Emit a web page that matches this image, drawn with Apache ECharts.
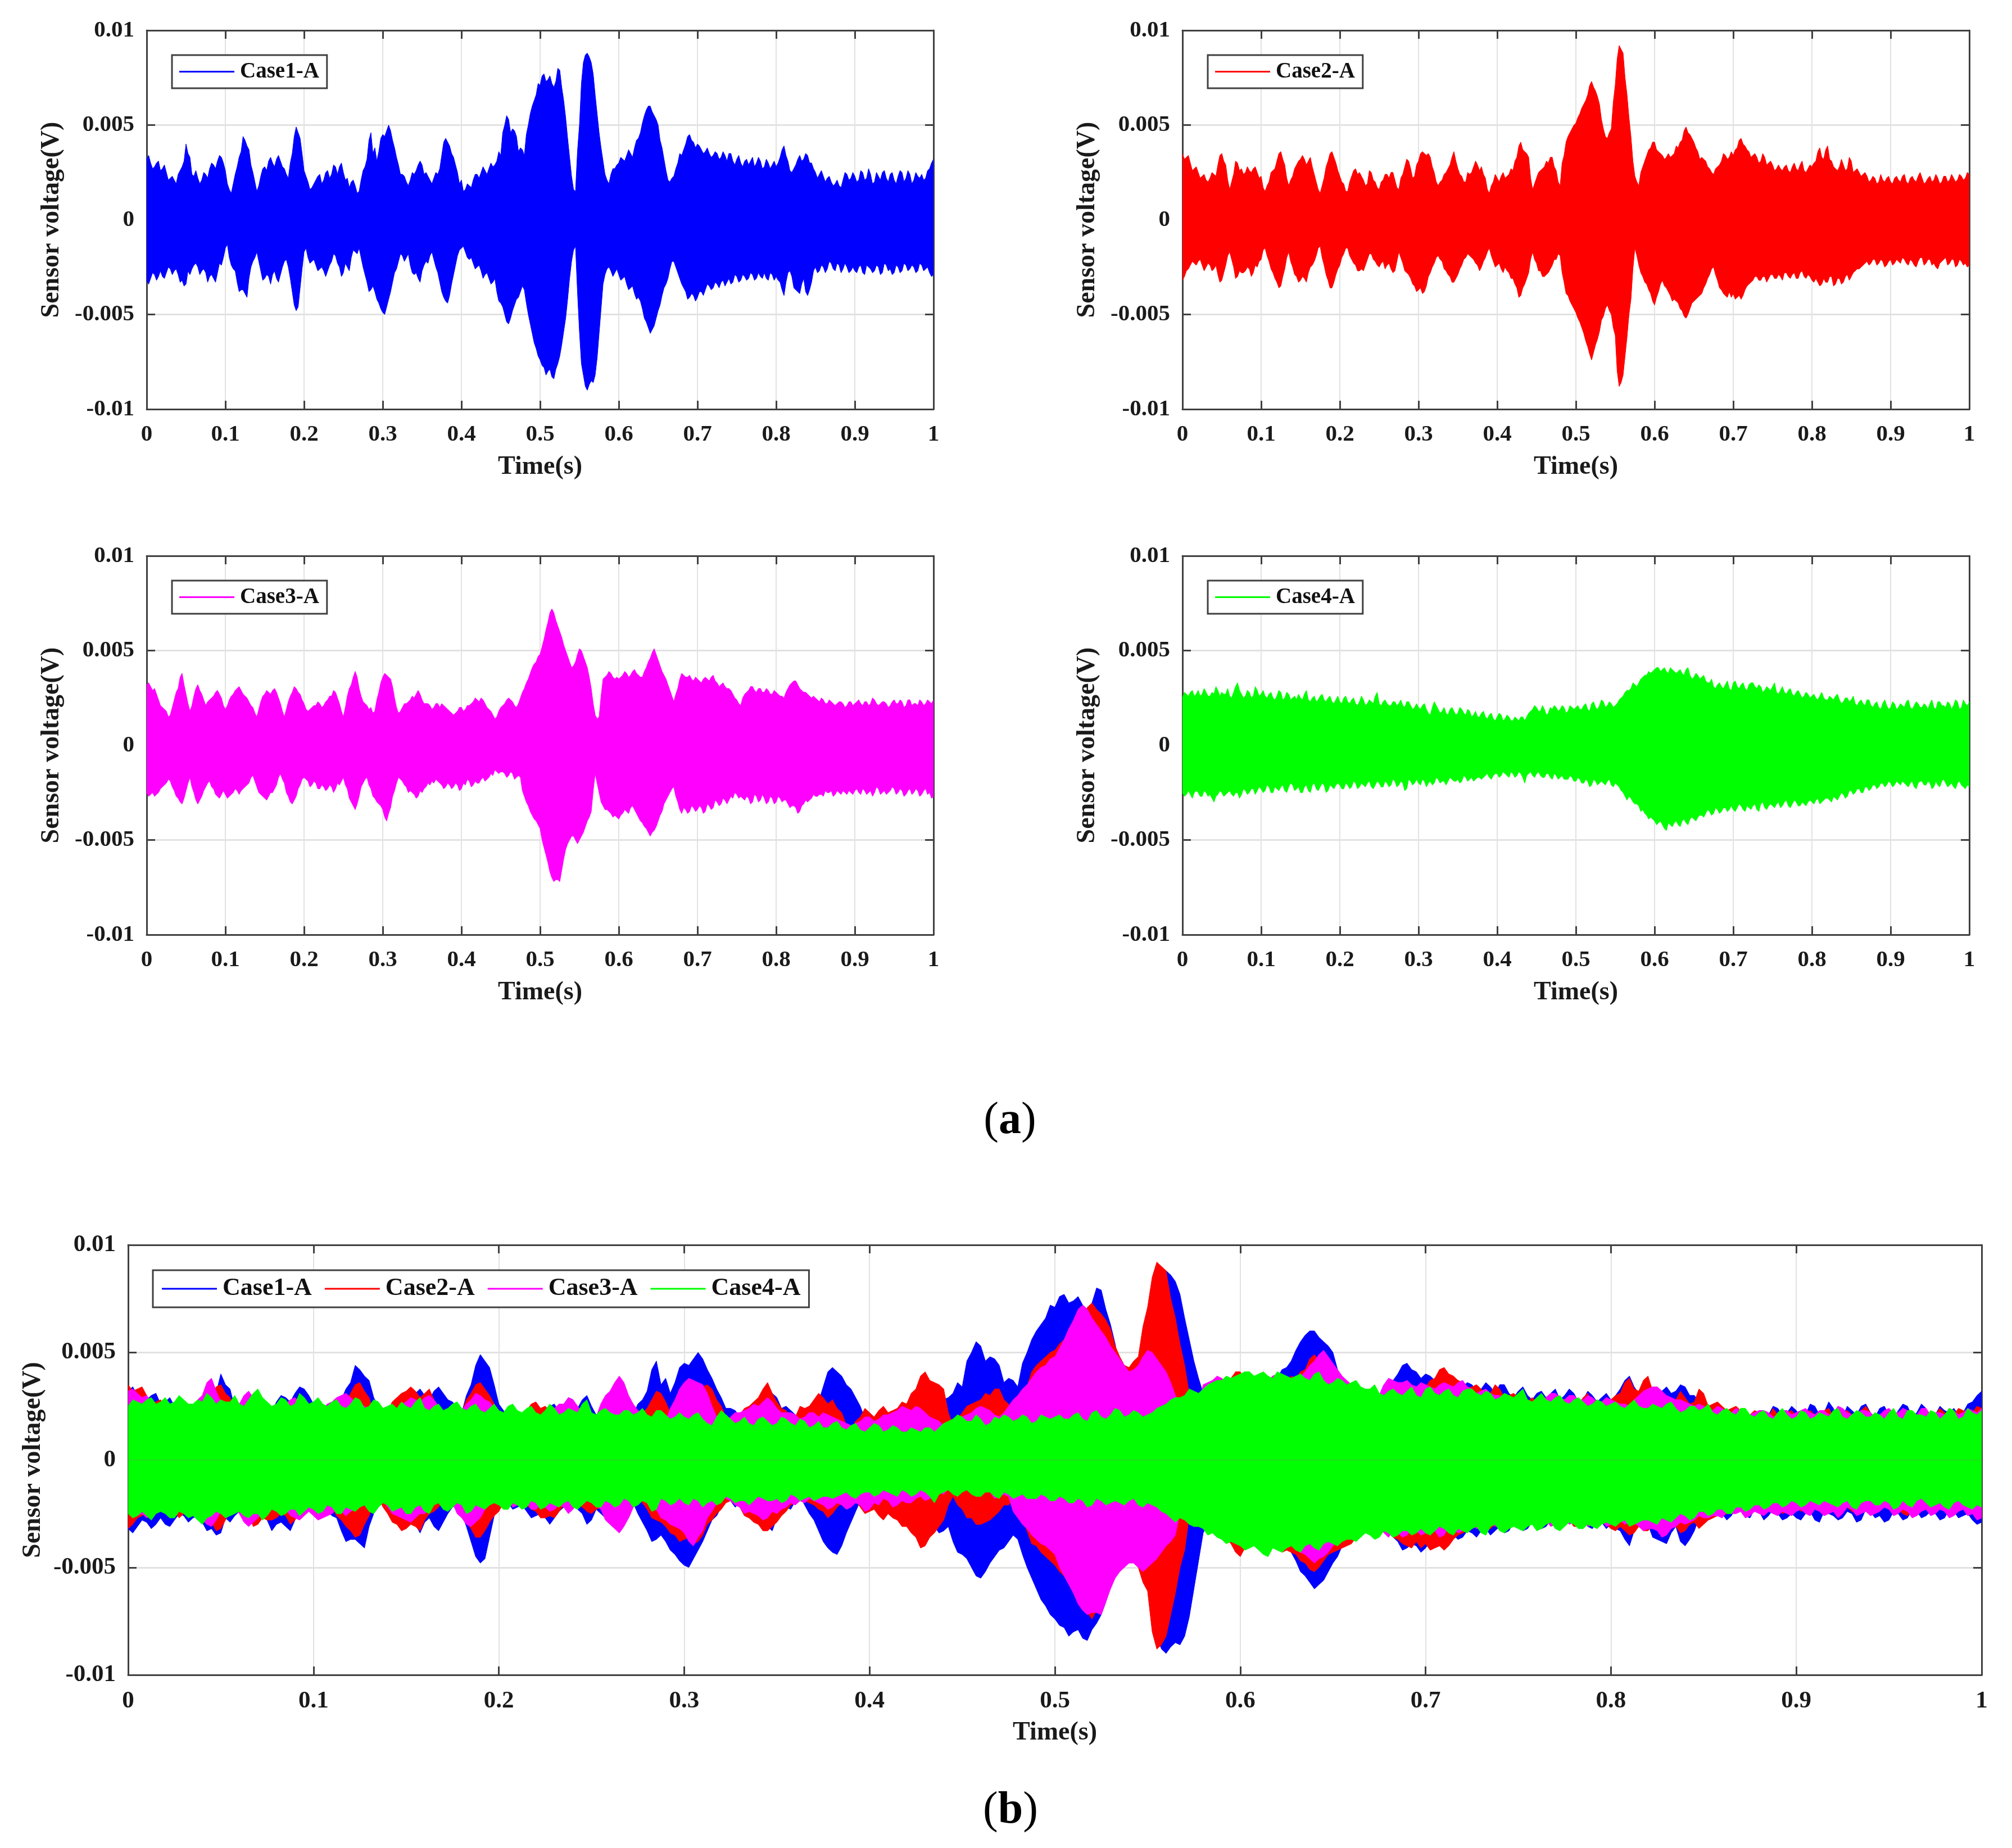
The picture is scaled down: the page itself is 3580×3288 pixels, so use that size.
<!DOCTYPE html>
<html>
<head>
<meta charset="utf-8">
<title>Sensor voltage</title>
<style>
html, body { margin: 0; padding: 0; background: #fff; }
#main { width: 3580px; height: 3288px; }
</style>
<script src="https://cdn.jsdelivr.net/npm/echarts@6/dist/echarts.min.js"></script>
</head>
<body>
<div id="main"></div>
<script>
// envelope of each record, in units of 0.1 mV, one value every 5 ms
var case1Top = [
	32,30,28,31,27,25,22,21,24,28,40,33,23,22,21,24,27,29,31,33,
	26,16,19,28,36,42,37,25,15,23,28,31,30,32,31,27,22,35,49,43,
	26,20,17,21,24,21,26,24,28,28,25,22,20,18,15,26,32,46,38,36,
	45,47,47,38,29,24,20,21,24,29,29,25,21,22,24,34,43,39,33,25,
	21,16,18,21,24,25,26,27,28,31,34,50,53,48,44,38,34,50,60,66,
	71,77,74,72,73,79,63,43,23,15,50,83,88,83,66,46,31,21,24,27,
	30,32,34,35,38,43,51,58,60,55,50,38,26,20,23,30,34,40,45,41,
	40,37,36,35,34,35,33,34,35,31,32,30,31,29,33,30,31,28,30,29,
	28,33,39,31,25,29,34,32,34,30,25,24,23,22,20,19,18,21,24,22,
	23,21,25,22,24,20,23,25,22,24,21,23,25,22,24,21,23,24,22,27,32
];
var case1Bottom = [
	-32,-31,-29,-30,-30,-28,-26,-27,-29,-32,-34,-29,-24,-25,-27,-28,-30,-31,-28,-24,
	-15,-20,-26,-33,-37,-39,-31,-22,-17,-27,-31,-30,-29,-31,-29,-22,-25,-38,-48,-36,
	-17,-20,-22,-24,-26,-27,-27,-22,-19,-25,-28,-25,-20,-17,-15,-25,-33,-37,-38,-44,
	-49,-46,-38,-28,-22,-19,-20,-24,-29,-31,-27,-22,-19,-21,-28,-38,-43,-40,-29,-19,
	-15,-17,-21,-23,-25,-27,-29,-31,-33,-38,-44,-50,-55,-48,-42,-38,-37,-50,-60,-68,
	-74,-78,-80,-83,-79,-72,-59,-42,-22,-14,-59,-82,-90,-85,-82,-60,-34,-26,-27,-28,
	-29,-31,-34,-36,-39,-41,-47,-54,-60,-56,-48,-40,-34,-26,-22,-28,-34,-38,-41,-40,
	-41,-38,-37,-35,-36,-34,-33,-35,-31,-33,-30,-32,-30,-31,-29,-31,-30,-28,-32,-29,
	-30,-33,-40,-28,-30,-37,-39,-31,-40,-33,-25,-27,-25,-26,-23,-27,-24,-26,-25,-27,
	-27,-25,-28,-24,-26,-27,-25,-28,-24,-26,-28,-25,-27,-24,-26,-25,-27,-24,-26,-28,-29
];
var case2Top = [
	35,33,30,27,25,23,21,22,24,29,35,29,16,24,30,27,25,26,27,25,
	23,15,20,26,31,36,29,18,23,29,32,32,31,28,20,14,22,31,36,30,
	23,19,15,23,27,25,21,19,25,20,16,21,24,25,21,16,24,32,27,23,
	31,36,34,33,25,18,21,25,29,36,27,23,20,24,28,29,28,22,14,20,
	22,23,22,24,26,33,41,36,33,16,22,26,28,30,33,26,18,34,44,48,
	51,56,61,66,73,68,61,48,43,48,71,92,88,66,44,23,18,28,34,38,
	41,36,34,33,33,35,38,42,49,45,41,36,33,31,27,24,28,31,34,33,
	34,38,43,39,36,34,33,31,33,30,29,27,27,28,26,28,27,29,26,27,
	28,31,38,32,39,31,27,28,29,27,31,26,25,24,23,21,22,20,21,22,
	20,22,21,23,20,22,21,23,22,20,23,21,22,20,23,21,22,21,23,22,24
];
var case2Bottom = [
	-32,-27,-24,-23,-22,-24,-25,-24,-26,-29,-32,-24,-17,-25,-30,-28,-27,-26,-28,-25,
	-21,-15,-22,-28,-33,-35,-26,-17,-25,-30,-32,-31,-28,-24,-19,-14,-24,-32,-36,-29,
	-24,-18,-15,-21,-24,-27,-27,-21,-18,-22,-25,-22,-24,-26,-27,-17,-23,-28,-31,-35,
	-37,-39,-35,-28,-23,-19,-22,-27,-30,-33,-29,-24,-20,-19,-21,-24,-25,-20,-15,-22,
	-24,-26,-25,-28,-31,-36,-40,-34,-28,-17,-23,-27,-30,-28,-24,-21,-19,-33,-40,-45,
	-49,-54,-60,-67,-74,-66,-59,-51,-45,-50,-61,-88,-82,-62,-42,-15,-24,-30,-34,-39,
	-45,-38,-32,-36,-40,-42,-44,-48,-52,-47,-43,-41,-39,-34,-29,-25,-32,-37,-40,-38,
	-39,-41,-42,-37,-34,-32,-30,-32,-30,-31,-29,-31,-30,-28,-30,-29,-31,-28,-30,-29,
	-32,-31,-35,-31,-33,-30,-34,-31,-33,-29,-30,-27,-26,-24,-22,-23,-21,-23,-22,-24,
	-21,-23,-22,-20,-23,-21,-24,-22,-20,-23,-21,-23,-26,-22,-20,-23,-21,-24,-22,-23,-24
];
var case3Top = [
	32,31,30,24,20,18,16,24,30,38,27,18,26,32,27,21,24,26,29,25,
	19,24,27,30,29,26,23,20,15,23,27,28,29,28,22,15,23,28,30,27,
	22,18,20,21,22,21,24,26,28,22,15,26,32,39,30,23,21,20,18,28,
	36,37,35,25,17,20,22,24,25,29,24,22,21,20,22,22,20,18,16,18,
	20,19,21,23,24,25,22,19,16,15,20,22,25,23,20,25,30,35,41,44,
	48,56,65,72,66,60,53,47,41,44,51,47,41,30,16,15,35,37,38,35,
	35,37,38,37,40,37,36,41,46,51,45,39,35,29,23,30,38,36,37,34,
	35,33,36,34,37,33,32,31,30,27,24,21,27,29,31,28,30,28,29,27,
	28,26,25,30,33,34,30,28,27,25,25,23,24,22,23,21,23,22,21,23,
	22,24,21,23,22,24,21,23,22,21,24,22,23,21,24,22,21,23,22,23,24
];
var case3Bottom = [
	-25,-26,-27,-25,-22,-20,-19,-24,-28,-31,-24,-17,-25,-31,-27,-22,-19,-23,-27,-26,
	-26,-27,-25,-24,-24,-22,-20,-16,-22,-26,-28,-27,-25,-21,-15,-20,-27,-31,-27,-21,
	-17,-19,-21,-20,-23,-22,-23,-22,-23,-21,-17,-23,-30,-34,-27,-20,-17,-23,-28,-31,
	-34,-40,-33,-24,-17,-19,-22,-24,-26,-27,-25,-22,-21,-20,-19,-21,-22,-21,-22,-21,
	-23,-21,-19,-21,-20,-18,-19,-17,-16,-14,-14,-15,-16,-15,-17,-17,-27,-32,-37,-40,
	-44,-54,-62,-70,-71,-72,-60,-52,-48,-50,-50,-46,-40,-35,-15,-25,-32,-34,-36,-37,
	-39,-36,-35,-33,-34,-38,-41,-44,-48,-45,-40,-35,-29,-25,-22,-30,-36,-34,-35,-33,
	-34,-33,-35,-32,-33,-30,-31,-29,-29,-28,-26,-27,-29,-28,-30,-27,-29,-28,-30,-28,
	-30,-28,-29,-31,-32,-33,-35,-31,-30,-28,-27,-26,-27,-25,-24,-26,-25,-24,-26,-25,
	-24,-25,-23,-26,-24,-25,-23,-25,-26,-24,-23,-25,-24,-26,-23,-25,-24,-26,-23,-25,-27
];
var case4Top = [
	25,27,28,26,29,27,28,26,27,29,28,27,26,28,33,27,26,28,26,29,
	27,26,27,25,26,28,25,27,25,24,25,27,24,25,23,26,24,25,23,24,
	23,25,23,24,22,23,24,22,23,26,22,23,22,21,23,22,21,23,21,20,
	20,21,19,16,23,19,18,17,19,18,17,19,16,18,16,15,17,15,16,14,
	15,16,14,15,13,14,15,13,17,19,20,18,19,17,19,20,19,20,18,20,
	20,19,21,19,22,20,21,23,21,22,21,24,26,29,30,32,33,36,37,38,
	40,41,40,39,41,39,39,38,40,37,36,37,36,34,33,31,32,31,32,30,
	33,31,32,30,32,33,30,31,29,30,31,28,29,28,29,27,28,27,26,27,
	26,25,26,25,24,25,26,24,23,25,24,22,23,22,24,21,22,20,22,21,
	20,22,20,21,23,20,21,22,20,21,22,20,23,21,20,22,21,23,20,22,23
];
var case4Bottom = [
	-25,-26,-26,-25,-25,-27,-25,-26,-30,-26,-25,-26,-24,-27,-25,-26,-24,-25,-23,-24,
	-23,-24,-22,-25,-23,-22,-24,-22,-21,-23,-25,-22,-24,-21,-23,-22,-21,-24,-22,-21,
	-21,-23,-21,-22,-20,-22,-21,-20,-22,-21,-20,-22,-20,-21,-19,-21,-20,-23,-19,-20,
	-20,-18,-22,-19,-20,-18,-19,-21,-17,-19,-18,-19,-17,-18,-19,-17,-18,-16,-17,-16,
	-15,-16,-15,-17,-15,-16,-15,-20,-15,-16,-15,-16,-17,-15,-18,-16,-17,-18,-18,-17,
	-19,-18,-20,-19,-21,-19,-20,-20,-19,-21,-20,-22,-25,-29,-28,-31,-32,-34,-37,-38,
	-40,-41,-42,-45,-42,-41,-42,-40,-41,-39,-39,-38,-37,-36,-35,-36,-34,-35,-33,-34,
	-34,-33,-32,-35,-33,-32,-34,-31,-33,-32,-32,-31,-33,-30,-32,-31,-30,-32,-31,-30,
	-30,-29,-31,-29,-28,-30,-28,-27,-26,-27,-24,-25,-23,-25,-22,-23,-21,-22,-20,-21,
	-20,-21,-20,-19,-21,-20,-22,-20,-19,-21,-20,-22,-21,-19,-20,-21,-22,-20,-21,-23,-22
];

// readings halfway between the ones above, they carry the fine spikes of the edge
var case1TopMid = [
	34,27,30,26,29,21,23,19,26,31,35,24,26,19,25,22,30,27,34,30,
	19,14,24,33,44,39,29,20,18,27,26,33,28,34,28,24,30,44,46,35,
	23,16,19,23,19,25,22,29,24,30,21,17,21,14,21,28,42,35,31,43,
	44,50,42,33,24,23,18,25,26,31,24,23,19,25,27,41,41,35,29,19,
	15,19,17,24,22,28,24,30,29,36,46,55,46,47,36,37,45,56,63,72,
	76,73,76,70,80,70,54,33,16,36,72,87,86,77,56,38,24,19,27,29,
	33,31,37,33,42,46,55,60,57,53,42,32,21,22,27,35,37,44,42,38,
	39,35,38,33,36,32,36,31,35,29,34,28,32,31,28,33,27,32,27,31,
	30,37,34,26,27,32,31,35,30,27,22,26,20,23,18,21,17,25,21,25,
	20,26,21,27,19,25,21,26,20,25,19,26,20,26,19,25,22,21,26,30
];
var case1BottomMid = [
	-34,-28,-32,-27,-31,-25,-29,-26,-33,-35,-27,-26,-23,-29,-26,-33,-29,-33,-23,-20,
	-13,-24,-27,-38,-37,-41,-25,-20,-22,-32,-29,-34,-27,-33,-25,-21,-31,-45,-46,-26,
	-15,-23,-21,-27,-25,-30,-24,-18,-23,-30,-23,-27,-16,-18,-20,-29,-38,-35,-42,-47,
	-50,-42,-33,-26,-18,-22,-18,-28,-28,-33,-24,-23,-17,-25,-33,-41,-44,-34,-24,-16,
	-14,-20,-20,-26,-24,-31,-28,-34,-31,-43,-46,-54,-52,-45,-41,-35,-44,-55,-65,-72,
	-77,-82,-79,-84,-76,-66,-52,-31,-16,-38,-76,-88,-87,-86,-73,-47,-29,-25,-30,-26,
	-32,-30,-37,-35,-42,-43,-52,-57,-58,-52,-45,-36,-31,-22,-25,-31,-36,-42,-39,-43,
	-38,-40,-34,-37,-33,-36,-32,-33,-34,-29,-33,-29,-32,-28,-32,-28,-31,-31,-28,-32,
	-32,-37,-33,-27,-36,-38,-34,-38,-37,-27,-28,-24,-28,-22,-26,-23,-28,-23,-28,-25,
	-28,-24,-29,-25,-28,-24,-29,-23,-27,-29,-24,-28,-23,-27,-24,-28,-23,-27,-25,-30
];
var case2TopMid = [
	32,34,26,28,22,24,20,25,23,34,31,21,20,31,26,24,28,25,28,22,
	17,18,25,27,35,32,22,21,27,31,34,29,33,24,16,18,28,35,33,26,
	20,15,20,26,24,23,18,26,21,17,20,24,22,25,17,22,28,31,22,29,
	35,35,35,28,20,20,24,27,33,31,24,20,25,25,31,26,24,16,18,24,
	20,25,23,27,31,39,37,35,22,19,25,27,31,33,28,20,30,41,46,50,
	54,59,63,71,70,65,53,44,46,62,85,90,75,54,31,20,25,31,37,41,
	37,35,32,35,34,39,41,47,46,43,38,32,32,28,25,27,29,35,32,36,
	37,42,40,37,33,35,30,35,29,31,26,29,26,29,25,30,26,31,25,29,
	30,36,33,37,32,28,26,32,26,33,25,27,23,25,20,23,19,24,20,23,
	19,23,20,24,19,23,20,25,19,22,20,24,19,23,20,24,20,24,21,25
];
var case2BottomMid = [
	-30,-26,-22,-24,-21,-27,-23,-27,-24,-33,-28,-19,-21,-31,-27,-28,-25,-30,-24,-22,
	-16,-19,-26,-31,-36,-30,-20,-22,-29,-33,-30,-33,-25,-22,-15,-20,-29,-36,-33,-26,
	-20,-15,-19,-23,-27,-26,-24,-18,-21,-24,-23,-26,-23,-28,-22,-20,-27,-29,-34,-38,
	-36,-38,-30,-25,-20,-21,-26,-29,-33,-31,-26,-21,-18,-20,-23,-27,-22,-17,-19,-25,
	-23,-28,-27,-31,-34,-41,-36,-31,-21,-21,-27,-30,-29,-26,-21,-18,-28,-39,-43,-47,
	-52,-57,-64,-71,-70,-63,-53,-47,-48,-57,-80,-86,-72,-50,-26,-19,-28,-33,-37,-43,
	-41,-34,-35,-38,-43,-43,-47,-51,-50,-44,-42,-40,-36,-31,-26,-29,-36,-39,-41,-41,
	-42,-40,-40,-35,-33,-30,-32,-30,-33,-29,-31,-29,-32,-28,-31,-28,-31,-27,-31,-30,
	-33,-33,-34,-33,-30,-35,-31,-34,-30,-32,-28,-26,-25,-23,-24,-21,-24,-21,-25,-22,
	-24,-21,-23,-21,-24,-22,-25,-20,-24,-21,-24,-25,-23,-21,-24,-21,-25,-21,-24,-25
];
var case3TopMid = [
	33,29,27,21,19,15,20,28,36,32,22,21,30,29,24,23,25,28,27,21,
	21,26,29,31,27,25,21,17,19,26,29,27,30,25,18,19,26,31,28,24,
	19,19,21,23,20,23,26,29,25,18,20,30,36,36,26,22,19,17,24,33,
	38,36,31,20,18,22,23,26,27,27,22,22,19,22,20,21,19,17,17,20,
	18,21,22,25,23,24,20,18,14,18,21,24,24,21,22,28,33,38,43,47,
	52,61,70,70,63,57,50,44,42,48,50,44,36,22,14,26,36,39,36,36,
	36,39,36,39,38,36,39,44,49,48,42,37,32,26,27,35,37,36,35,36,
	34,35,35,36,34,31,33,30,29,25,22,25,28,31,29,30,28,30,27,29,
	27,26,28,32,34,32,29,28,26,26,24,25,22,24,22,22,23,20,23,21,
	23,22,23,21,25,22,22,23,20,23,22,24,20,24,21,22,24,21,24,22
];
var case3BottomMid = [
	-27,-25,-26,-23,-21,-18,-22,-27,-30,-28,-20,-22,-29,-29,-24,-20,-22,-26,-28,-24,
	-28,-26,-23,-26,-23,-21,-17,-19,-25,-27,-29,-25,-23,-17,-18,-25,-30,-29,-23,-18,
	-18,-22,-19,-23,-21,-24,-21,-25,-20,-19,-21,-28,-32,-31,-22,-18,-21,-27,-30,-32,
	-38,-36,-27,-20,-18,-21,-25,-25,-28,-24,-23,-20,-19,-18,-20,-23,-20,-23,-20,-24,
	-20,-18,-22,-19,-20,-17,-18,-15,-13,-15,-14,-17,-14,-18,-16,-24,-30,-35,-39,-42,
	-50,-58,-67,-72,-71,-66,-55,-50,-48,-52,-48,-43,-38,-24,-20,-30,-34,-35,-38,-38,
	-37,-34,-36,-32,-36,-40,-43,-46,-46,-43,-37,-31,-27,-23,-27,-34,-33,-36,-32,-35,
	-32,-36,-31,-34,-29,-32,-28,-31,-27,-25,-28,-28,-27,-31,-26,-30,-26,-31,-27,-31,
	-27,-30,-29,-33,-32,-36,-32,-29,-29,-26,-27,-26,-24,-25,-27,-24,-26,-25,-24,-26,
	-23,-26,-24,-25,-27,-22,-26,-24,-25,-22,-26,-23,-27,-24,-26,-23,-27,-24,-26,-28
];
var case4TopMid = [
	28,26,29,27,26,30,26,28,31,26,27,30,25,31,29,25,29,25,31,26,
	29,25,28,24,29,24,28,24,26,27,24,29,23,26,24,27,23,26,22,26,
	22,26,22,25,21,26,21,24,22,28,21,24,21,23,21,24,20,23,19,22,
	19,22,17,20,21,17,20,16,20,16,20,17,19,15,18,15,18,14,17,13,
	17,13,16,13,15,13,15,15,18,21,18,21,16,20,21,18,21,17,21,19,
	21,19,22,18,23,19,24,20,23,20,22,25,28,29,33,31,35,37,39,39,
	41,39,41,38,40,38,40,37,41,35,38,35,37,33,35,30,33,30,34,29,
	34,30,33,29,33,31,32,28,31,29,33,27,31,27,30,26,29,25,28,25,
	27,24,28,24,26,24,27,22,25,23,26,21,24,21,24,20,23,19,24,19,
	23,19,22,20,24,19,23,20,22,19,24,19,23,21,23,19,24,19,24,21
];
var case4BottomMid = [
	-27,-24,-28,-24,-27,-24,-27,-28,-27,-24,-27,-25,-26,-25,-28,-23,-26,-23,-26,-22,
	-25,-21,-25,-22,-24,-21,-25,-20,-24,-22,-25,-21,-25,-20,-24,-20,-25,-21,-23,-20,
	-23,-20,-23,-19,-23,-20,-22,-19,-23,-19,-22,-19,-22,-18,-22,-19,-24,-18,-21,-18,
	-21,-19,-20,-21,-17,-20,-19,-19,-18,-19,-20,-16,-19,-17,-18,-17,-17,-15,-18,-15,
	-17,-14,-16,-14,-17,-14,-17,-16,-14,-17,-14,-17,-15,-17,-15,-18,-16,-18,-16,-19,
	-17,-20,-18,-22,-18,-21,-19,-21,-18,-22,-21,-24,-27,-27,-30,-31,-35,-36,-39,-39,
	-42,-40,-44,-41,-43,-40,-43,-39,-42,-38,-40,-37,-38,-34,-37,-33,-36,-33,-35,-32,
	-35,-31,-34,-32,-34,-31,-35,-30,-34,-31,-33,-30,-32,-29,-33,-29,-32,-30,-32,-29,
	-31,-28,-30,-28,-29,-27,-29,-25,-28,-24,-26,-23,-25,-22,-24,-21,-23,-20,-22,-19,
	-22,-19,-21,-20,-22,-19,-23,-19,-21,-19,-23,-19,-22,-18,-22,-20,-23,-19,-22,-21
];

var caseNames = ['Case1-A', 'Case2-A', 'Case3-A', 'Case4-A'];
var caseColors = ['#0000ff', '#ff0000', '#ff00ff', '#00ff00'];
var topValues = [case1Top, case2Top, case3Top, case4Top];
var bottomValues = [case1Bottom, case2Bottom, case3Bottom, case4Bottom];
var topMidValues = [case1TopMid, case2TopMid, case3TopMid, case4TopMid];
var bottomMidValues = [case1BottomMid, case2BottomMid, case3BottomMid, case4BottomMid];

var sampleStep = 0.005;
var serifFont = '"Liberation Serif", "Times New Roman", serif';

// left, top, width, height of every plot box, then which cases it shows
var panels = [
	{ box: [261, 54, 1400, 674], cases: [0], legend: [306, 98], font: 41, nameFont: 46, legendFont: 39 },
	{ box: [2104, 54, 1400, 674], cases: [1], legend: [2149, 98], font: 41, nameFont: 46, legendFont: 39 },
	{ box: [261, 989, 1400, 674], cases: [2], legend: [306, 1033], font: 41, nameFont: 46, legendFont: 39 },
	{ box: [2104, 989, 1400, 674], cases: [3], legend: [2149, 1033], font: 41, nameFont: 46, legendFont: 39 },
	{ box: [228, 2215, 3298, 765], cases: [0, 1, 2, 3], legend: [272, 2260], font: 43, nameFont: 46, legendFont: 44 }
];

function toPoints(values, mids) {
	var points = [];
	for (var i = 0; i < values.length; i++) {
		points.push([i * sampleStep, values[i] / 10000]);
		if (i < mids.length) {
			points.push([(i + 0.5) * sampleStep, mids[i] / 10000]);
		}
	}
	return points;
}

var option = {
	backgroundColor: '#fff',
	animation: false,
	title: [],
	grid: [],
	xAxis: [],
	yAxis: [],
	legend: [],
	series: []
};

var lineDark = '#404040';
var gridColor = '#e2e2e2';

for (var p = 0; p < panels.length; p++) {
	var panel = panels[p];
	var box = panel.box;
	var xIndex = option.xAxis.length;
	var yIndex = option.yAxis.length;

	option.grid.push({ left: box[0], top: box[1], width: box[2], height: box[3], show: false });

	var labelStyle = { fontFamily: serifFont, fontWeight: 'bold', fontSize: panel.font, color: '#1a1a1a' };
	var nameStyle = { fontFamily: serifFont, fontWeight: 'bold', fontSize: panel.nameFont, color: '#1a1a1a' };
	var axisLine = { show: true, onZero: false, lineStyle: { color: lineDark, width: 3 } };
	var tick = { show: true, inside: true, length: 15, lineStyle: { color: lineDark, width: 3 } };

	// lower and left axes carry the labels, upper and right ones only close the box
	option.xAxis.push({
		type: 'value', gridIndex: p, position: 'bottom', min: 0, max: 1, interval: 0.1,
		name: 'Time(s)', nameLocation: 'middle', nameGap: 80, nameTextStyle: nameStyle,
		axisLine: axisLine, axisTick: tick,
		axisLabel: Object.assign({ margin: 25 }, labelStyle),
		splitLine: { show: true, lineStyle: { color: gridColor, width: 2 } }
	});
	option.xAxis.push({
		type: 'value', gridIndex: p, position: 'top', min: 0, max: 1, interval: 0.1,
		axisLine: axisLine, axisTick: tick, axisLabel: { show: false }, splitLine: { show: false }
	});
	option.yAxis.push({
		type: 'value', gridIndex: p, position: 'left', min: -0.01, max: 0.01, interval: 0.005,
		name: 'Sensor voltage(V)', nameLocation: 'middle', nameGap: 146, nameTextStyle: nameStyle,
		axisLine: axisLine, axisTick: tick,
		axisLabel: Object.assign({ margin: 22 }, labelStyle),
		splitLine: { show: true, lineStyle: { color: gridColor, width: 3 } }
	});
	option.yAxis.push({
		type: 'value', gridIndex: p, position: 'right', min: -0.01, max: 0.01, interval: 0.005,
		axisLine: axisLine, axisTick: tick, axisLabel: { show: false }, splitLine: { show: false }
	});

	var legendNames = [];
	for (var c = 0; c < panel.cases.length; c++) {
		var caseIndex = panel.cases[c];
		legendNames.push(caseNames[caseIndex]);
		var sides = [toPoints(topValues[caseIndex], topMidValues[caseIndex]),
			toPoints(bottomValues[caseIndex], bottomMidValues[caseIndex])];
		for (var s = 0; s < 2; s++) {
			option.series.push({
				name: caseNames[caseIndex],
				type: 'line',
				xAxisIndex: xIndex,
				yAxisIndex: yIndex,
				data: sides[s],
				showSymbol: false,
				symbol: 'none',
				silent: true,
				sampling: 'none',
				z: 2 + c,
				itemStyle: { color: caseColors[caseIndex] },
				lineStyle: { color: caseColors[caseIndex], width: 1 },
				areaStyle: { color: caseColors[caseIndex], opacity: 1 }
			});
		}
	}

	option.legend.push({
		left: panel.legend[0],
		top: panel.legend[1],
		orient: 'horizontal',
		data: legendNames,
		selectedMode: false,
		icon: 'rect',
		padding: panel.cases.length > 1 ? [11, 15, 11, 16] : [10, 14, 10, 13],
		itemWidth: 98,
		itemHeight: 3,
		itemGap: 23,
		borderColor: lineDark,
		borderWidth: 3,
		backgroundColor: '#fff',
		textStyle: {
			fontFamily: serifFont,
			fontWeight: 'bold',
			fontSize: panel.legendFont,
			color: '#111',
			padding: [2, 0, 0, 5]
		},
		z: 20
	});
}

function captionTitle(letter, x, y) {
	return {
		left: x,
		top: y,
		textAlign: 'center',
		text: '{p|(}{b|' + letter + '}{p|)}',
		textStyle: {
			fontWeight: 'normal',
			rich: {
				p: { fontFamily: serifFont, fontSize: 80, fontWeight: 'normal', color: '#000' },
				b: { fontFamily: serifFont, fontSize: 80, fontWeight: 'bold', color: '#000' }
			}
		}
	};
}
option.title.push(captionTitle('a', 1792, 1950));
option.title.push(captionTitle('b', 1793, 3177));

var myChart = echarts.init(document.getElementById('main'));
myChart.setOption(option);
</script>
</body>
</html>
